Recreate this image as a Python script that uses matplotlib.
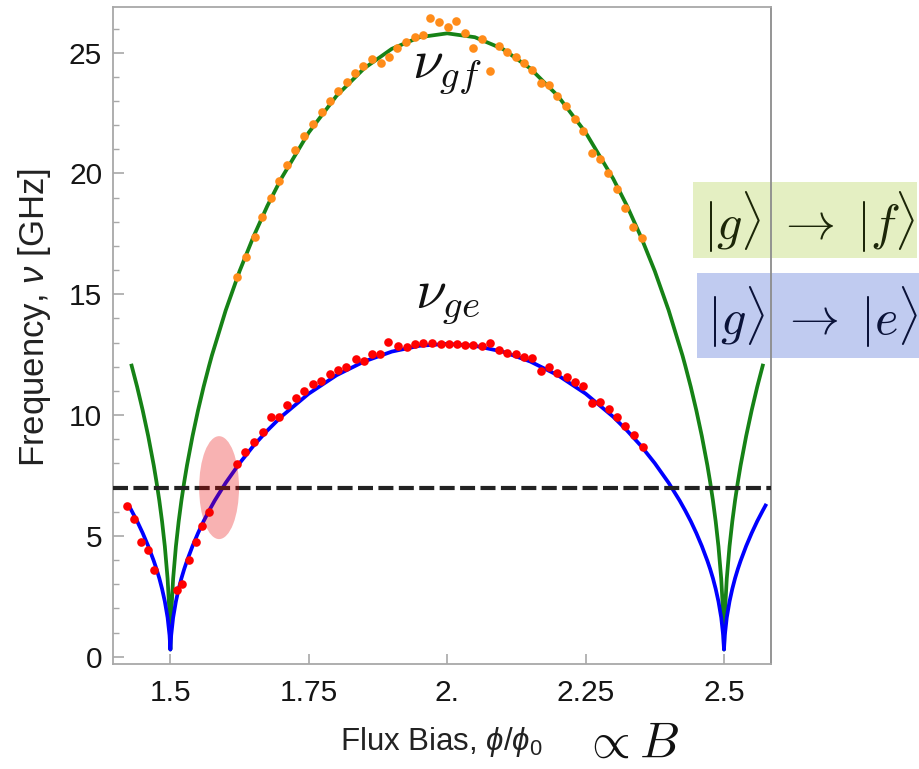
import matplotlib
matplotlib.use("Agg")
import matplotlib.pyplot as plt
from matplotlib.patches import Ellipse, Rectangle
from matplotlib.ticker import MultipleLocator, FixedLocator

plt.rcParams['font.family'] = ['Liberation Sans', 'DejaVu Sans']
plt.rcParams['mathtext.fontset'] = 'custom'
plt.rcParams['mathtext.rm'] = 'Liberation Sans'
plt.rcParams['mathtext.it'] = 'Liberation Sans:italic'
plt.rcParams['mathtext.bf'] = 'Liberation Sans:bold'

# ---- fitted spectra: g->e (blue) and g->f (green) ----
ge_fit_x = [1.425, 1.44, 1.45, 1.46, 1.47, 1.475, 1.48, 1.485, 1.49, 1.495, 1.4985, 1.5,
            1.5015, 1.505, 1.51, 1.515, 1.52, 1.525, 1.53, 1.54, 1.55, 1.56, 1.57, 1.58,
            1.6, 1.625, 1.65, 1.675, 1.7, 1.75, 1.8, 1.85, 1.9, 1.95, 2.0,
            2.05, 2.1, 2.15, 2.2, 2.25, 2.3, 2.325, 2.35, 2.375, 2.4, 2.42, 2.43, 2.44,
            2.45, 2.46, 2.47, 2.475, 2.48, 2.485, 2.49, 2.495, 2.4985, 2.5,
            2.5015, 2.505, 2.51, 2.515, 2.52, 2.525, 2.53, 2.54, 2.55, 2.56, 2.57, 2.575]
ge_fit_y = [6.26, 5.61, 5.12, 4.58, 3.97, 3.63, 3.25, 2.81, 2.29, 1.62, 0.89, 0.30,
            0.89, 1.62, 2.29, 2.81, 3.25, 3.63, 3.97, 4.58, 5.12, 5.61, 6.05, 6.46,
            7.20, 8.01, 8.73, 9.36, 9.93, 10.89, 11.65, 12.22, 12.63, 12.87, 12.95,
            12.87, 12.63, 12.22, 11.65, 10.89, 9.93, 9.36, 8.73, 8.01, 7.20, 6.46, 6.05, 5.61,
            5.12, 4.58, 3.97, 3.63, 3.25, 2.81, 2.29, 1.62, 0.89, 0.30,
            0.89, 1.62, 2.29, 2.81, 3.25, 3.63, 3.97, 4.58, 5.12, 5.61, 6.05, 6.26]

gf_fit_x = [1.43, 1.44, 1.45, 1.46, 1.47, 1.475, 1.48, 1.485, 1.49, 1.495, 1.4985, 1.5,
            1.5015, 1.505, 1.51, 1.515, 1.52, 1.525, 1.53, 1.54, 1.55, 1.56, 1.57, 1.575,
            1.6, 1.625, 1.65, 1.675, 1.7, 1.75, 1.8, 1.85, 1.9, 1.95, 2.0,
            2.05, 2.1, 2.15, 2.2, 2.25, 2.3, 2.325, 2.35, 2.375, 2.4, 2.425, 2.43, 2.44,
            2.45, 2.46, 2.47, 2.475, 2.48, 2.485, 2.49, 2.495, 2.4985, 2.5,
            2.5015, 2.505, 2.51, 2.515, 2.52, 2.525, 2.53, 2.54, 2.55, 2.56, 2.57]
gf_fit_y = [12.05, 11.17, 10.20, 9.13, 7.92, 7.23, 6.47, 5.60, 4.57, 3.23, 1.77, 0.30,
            1.77, 3.23, 4.57, 5.60, 6.47, 7.23, 7.92, 9.13, 10.20, 11.17, 12.05, 12.47,
            14.34, 15.96, 17.38, 18.65, 19.78, 21.70, 23.21, 24.35, 25.16, 25.64, 25.80,
            25.64, 25.16, 24.35, 23.21, 21.70, 19.78, 18.65, 17.38, 15.96, 14.34, 12.47, 12.05, 11.17,
            10.20, 9.13, 7.92, 7.23, 6.47, 5.60, 4.57, 3.23, 1.77, 0.30,
            1.77, 3.23, 4.57, 5.60, 6.47, 7.23, 7.92, 9.13, 10.20, 11.17, 12.05]

# ---- measured transitions ----
ge_meas_x = [1.422, 1.435, 1.447, 1.460, 1.471, 1.512, 1.521, 1.533, 1.546, 1.557, 1.569,
             1.620, 1.635, 1.651, 1.667, 1.682, 1.697, 1.711, 1.727, 1.742, 1.757, 1.772,
             1.788, 1.803, 1.818, 1.835, 1.850, 1.864, 1.879, 1.894, 1.912, 1.927, 1.942,
             1.957, 1.973, 1.988, 2.003, 2.017, 2.032, 2.047, 2.062, 2.077, 2.094, 2.108,
             2.124, 2.138, 2.154, 2.169, 2.184, 2.199, 2.216, 2.231, 2.246, 2.261, 2.276,
             2.292, 2.307, 2.322, 2.337, 2.353]
ge_meas_y = [6.24, 5.71, 4.76, 4.42, 3.58, 2.78, 3.00, 4.00, 4.76, 5.41, 5.98,
             7.98, 8.49, 8.90, 9.31, 9.93, 9.93, 10.40, 10.69, 11.01, 11.27, 11.40,
             11.70, 11.87, 12.00, 12.31, 12.24, 12.53, 12.53, 13.01, 12.86, 12.83, 12.93,
             12.97, 12.97, 12.94, 12.94, 12.94, 12.90, 12.90, 12.86, 13.00, 12.69, 12.58,
             12.52, 12.42, 12.35, 11.84, 12.00, 11.73, 11.56, 11.38, 11.20, 10.49, 10.55,
             10.24, 9.91, 9.55, 9.18, 8.69]

gf_meas_x = [1.620, 1.636, 1.652, 1.666, 1.682, 1.696, 1.711, 1.726, 1.742, 1.757, 1.773,
             1.788, 1.803, 1.819, 1.833, 1.848, 1.865, 1.880, 1.895, 1.910, 1.925, 1.942,
             1.956, 1.969, 1.986, 2.002, 2.016, 2.032, 2.047, 2.062, 2.077, 2.093, 2.108,
             2.124, 2.139, 2.154, 2.169, 2.184, 2.199, 2.215, 2.231, 2.246, 2.261, 2.276,
             2.291, 2.306, 2.321, 2.336, 2.352]
gf_meas_y = [15.70, 16.56, 17.38, 18.21, 18.97, 19.70, 20.35, 20.97, 21.55, 22.04, 22.53,
             23.00, 23.42, 23.80, 24.17, 24.45, 24.73, 24.59, 24.81, 25.18, 25.46, 25.64,
             25.73, 26.42, 26.28, 26.05, 26.32, 25.83, 25.18, 25.55, 24.24, 25.28, 25.04,
             24.83, 24.59, 24.28, 23.73, 23.66, 23.21, 22.78, 22.24, 21.76, 20.86, 20.60,
             20.01, 19.35, 18.58, 17.80, 17.32]

readout_freq = 7.0
x_ticks = [1.5, 1.75, 2.0, 2.25, 2.5]
x_tick_labels = ['1.5', '1.75', '2.', '2.25', '2.5']
y_ticks = [0, 5, 10, 15, 20, 25]

fig = plt.figure(figsize=(9.2, 7.69), dpi=100)
fig.patch.set_facecolor('white')
ax = fig.add_axes([0.1232, 0.1365, 0.7149, 0.8547])
ax.patch.set_visible(False)

ax.plot(gf_fit_x, gf_fit_y, color='#168216', lw=2.7, zorder=2, solid_joinstyle='round')
ax.plot(ge_fit_x, ge_fit_y, color='#0000ff', lw=2.7, zorder=2, solid_joinstyle='round')
ax.axhline(readout_freq, color='#222222', lw=3.0, dashes=(3.6, 1.3), zorder=3)
ax.plot(gf_meas_x, gf_meas_y, 'o', ms=6.2, color='#ff8c1a', mec='none', zorder=4)
ax.plot(ge_meas_x, ge_meas_y, 'o', ms=6.2, color='#ff0000', mec='none', zorder=4)
ax.add_patch(Ellipse((1.588, 7.0), 0.072, 4.26, facecolor='#e80000', alpha=0.3,
                     edgecolor='none', zorder=5))

ax.set_xlim(1.397, 2.585)
ax.set_ylim(-0.3, 26.9)
ax.xaxis.set_major_locator(FixedLocator(x_ticks))
ax.set_xticklabels(x_tick_labels)
ax.yaxis.set_major_locator(FixedLocator(y_ticks))
ax.yaxis.set_minor_locator(MultipleLocator(1))

for sp in ax.spines.values():
    sp.set_color('#a8a8a8')
    sp.set_linewidth(1.3)
ax.spines['right'].set_color('#8c8c8c')

ax.tick_params(axis='both', which='both', direction='in', color='#a8a8a8',
               labelcolor='#151515', labelsize=21.5)
ax.tick_params(axis='y', which='major', length=8, width=1.2, pad=8)
ax.tick_params(axis='y', which='minor', length=4.5, width=1.0)
ax.tick_params(axis='x', which='major', length=7.5, width=1.2, pad=11)

# curve labels
ax.text(1.9363, 23.99, r'$\nu_{gf}$', fontsize=40, math_fontfamily='cm',
        ha='left', va='baseline', color='#111111')
ax.text(1.9417, 14.47, r'$\nu_{ge}$', fontsize=40, math_fontfamily='cm',
        ha='left', va='baseline', color='#111111')

# axis labels
fig.text(441 / 920, 1 - 750 / 769, r'Flux Bias, $\phi/\phi_0$', fontsize=22.5,
         ha='center', va='baseline', color='#222222')
fig.text(35 / 920, 1 - 318 / 769, r'Frequency, $\nu$ [GHz]', fontsize=25,
         rotation=90, ha='center', va='center', color='#222222')
fig.text(583 / 920, 1 - 758 / 769, r'$\propto B$', fontsize=36, math_fontfamily='cm',
         ha='left', va='baseline', color='#111111')

# transition key boxes
fig.add_artist(Rectangle((0.7536, 0.6641), 0.2428, 0.0996, transform=fig.transFigure,
                         facecolor='#e4efc2', edgecolor='none', zorder=-1))
fig.add_artist(Rectangle((0.7573, 0.5341), 0.2427, 0.1105, transform=fig.transFigure,
                         facecolor='#c0cbf0', edgecolor='none', zorder=-1))
fig.text(703 / 920, 1 - 222 / 769, r'$|g\rangle\;\rightarrow\;|f\rangle$', fontsize=36,
         math_fontfamily='cm', ha='left', va='center', color='#1c2608', zorder=3)
fig.text(707 / 920, 1 - 317 / 769, r'$|g\rangle\;\rightarrow\;|e\rangle$', fontsize=36,
         math_fontfamily='cm', ha='left', va='center', color='#0a1238', zorder=3)

fig.savefig('out.png', dpi=100, facecolor='white')
